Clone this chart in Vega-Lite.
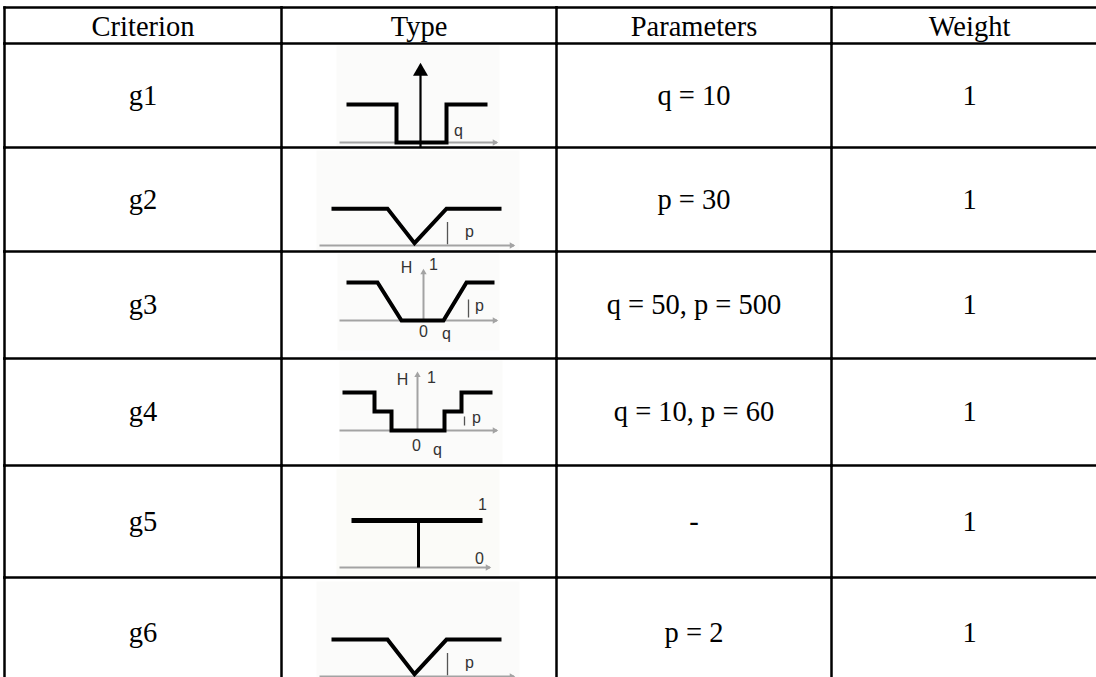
{
  "$schema": "https://vega.github.io/schema/vega-lite/v6.json",
  "padding": {"left": 2.5, "top": 5.5, "right": 0, "bottom": 0},
  "background": "white",
  "columns": 4,
  "align": "each",
  "bounds": "flush",
  "spacing": 0,
  "config": {
    "view": {"stroke": null},
    "concat": {"spacing": 0},
    "text": {"font": "Liberation Serif", "fontSize": 28.5, "color": "#000000"},
    "rule": {"color": "#000000", "strokeWidth": 2.5, "strokeCap": "square"}
  },
  "datasets": {
    "headers": [
      {"column": "Criterion"}, {"column": "Type"}, {"column": "Parameters"}, {"column": "Weight"}
    ],
    "table": [
      {"criterion": "g1", "icon": "u-shape", "parameters": "q = 10", "weight": 1},
      {"criterion": "g2", "icon": "v-shape", "parameters": "p = 30", "weight": 1},
      {"criterion": "g3", "icon": "linear", "parameters": "q = 50, p = 500", "weight": 1},
      {"criterion": "g4", "icon": "level", "parameters": "q = 10, p = 60", "weight": 1},
      {"criterion": "g5", "icon": "usual", "parameters": "-", "weight": 1},
      {"criterion": "g6", "icon": "v-shape", "parameters": "p = 2", "weight": 1}
    ],
    "panels": [
      {"icon": "u-shape", "d": -3.32, "d2": 3.2, "H": 2.55, "H2": -0.13},
      {"icon": "v-shape", "d": -4.12, "d2": 4.0, "H": 2.5, "H2": -0.15},
      {"icon": "linear", "d": -3.28, "d2": 3.2, "H": 1.76, "H2": -0.79},
      {"icon": "level", "d": -3.2, "d2": 3.32, "H": 1.84, "H2": -0.92},
      {"icon": "usual", "d": -3.32, "d2": 3.2, "H": 2.1, "H2": -0.17}
    ],
    "shapes": [
      {"icon": "u-shape", "part": "axis", "ord": 1, "d": -3.2, "H": 0},
      {"icon": "u-shape", "part": "axis", "ord": 2, "d": 3.1, "H": 0},
      {"icon": "u-shape", "part": "varrow", "ord": 1, "d": 0.04, "H": -0.13},
      {"icon": "u-shape", "part": "varrow", "ord": 2, "d": 0.04, "H": 1.85},
      {"icon": "u-shape", "part": "curve", "ord": 1, "d": -2.92, "H": 1},
      {"icon": "u-shape", "part": "curve", "ord": 2, "d": -0.92, "H": 1},
      {"icon": "u-shape", "part": "curve", "ord": 3, "d": -0.92, "H": 0},
      {"icon": "u-shape", "part": "curve", "ord": 4, "d": 1.08, "H": 0},
      {"icon": "u-shape", "part": "curve", "ord": 5, "d": 1.08, "H": 1},
      {"icon": "u-shape", "part": "curve", "ord": 6, "d": 2.72, "H": 1},
      {"icon": "v-shape", "part": "axis", "ord": 1, "d": -4.0, "H": 0},
      {"icon": "v-shape", "part": "axis", "ord": 2, "d": 3.78, "H": 0},
      {"icon": "v-shape", "part": "tick", "ord": 1, "d": 1.12, "H": 0.03},
      {"icon": "v-shape", "part": "tick", "ord": 2, "d": 1.12, "H": 0.62},
      {"icon": "v-shape", "part": "curve", "ord": 1, "d": -3.52, "H": 0.97},
      {"icon": "v-shape", "part": "curve", "ord": 2, "d": -1.28, "H": 0.97},
      {"icon": "v-shape", "part": "curve", "ord": 3, "d": -0.2, "H": 0.06},
      {"icon": "v-shape", "part": "curve", "ord": 4, "d": 1.08, "H": 0.97},
      {"icon": "v-shape", "part": "curve", "ord": 5, "d": 3.28, "H": 0.97},
      {"icon": "linear", "part": "axis", "ord": 1, "d": -3.2, "H": 0},
      {"icon": "linear", "part": "axis", "ord": 2, "d": 3.1, "H": 0},
      {"icon": "linear", "part": "vaxis", "ord": 1, "d": 0.16, "H": 0},
      {"icon": "linear", "part": "vaxis", "ord": 2, "d": 0.16, "H": 1.25},
      {"icon": "linear", "part": "tick", "ord": 1, "d": 1.96, "H": 0.08},
      {"icon": "linear", "part": "tick", "ord": 2, "d": 1.96, "H": 0.55},
      {"icon": "linear", "part": "curve", "ord": 1, "d": -2.92, "H": 1},
      {"icon": "linear", "part": "curve", "ord": 2, "d": -1.68, "H": 1},
      {"icon": "linear", "part": "curve", "ord": 3, "d": -0.72, "H": 0},
      {"icon": "linear", "part": "curve", "ord": 4, "d": 0.96, "H": 0},
      {"icon": "linear", "part": "curve", "ord": 5, "d": 1.88, "H": 1},
      {"icon": "linear", "part": "curve", "ord": 6, "d": 3.0, "H": 1},
      {"icon": "level", "part": "axis", "ord": 1, "d": -3.2, "H": 0},
      {"icon": "level", "part": "axis", "ord": 2, "d": 3.1, "H": 0},
      {"icon": "level", "part": "vaxis", "ord": 1, "d": -0.08, "H": 0},
      {"icon": "level", "part": "vaxis", "ord": 2, "d": -0.08, "H": 1.45},
      {"icon": "level", "part": "tick", "ord": 1, "d": 1.8, "H": 0.13},
      {"icon": "level", "part": "tick", "ord": 2, "d": 1.8, "H": 0.37},
      {"icon": "level", "part": "curve", "ord": 1, "d": -3.08, "H": 1},
      {"icon": "level", "part": "curve", "ord": 2, "d": -1.8, "H": 1},
      {"icon": "level", "part": "curve", "ord": 3, "d": -1.8, "H": 0.5},
      {"icon": "level", "part": "curve", "ord": 4, "d": -1.12, "H": 0.5},
      {"icon": "level", "part": "curve", "ord": 5, "d": -1.12, "H": 0},
      {"icon": "level", "part": "curve", "ord": 6, "d": 1.0, "H": 0},
      {"icon": "level", "part": "curve", "ord": 7, "d": 1.0, "H": 0.5},
      {"icon": "level", "part": "curve", "ord": 8, "d": 1.68, "H": 0.5},
      {"icon": "level", "part": "curve", "ord": 9, "d": 1.68, "H": 1},
      {"icon": "level", "part": "curve", "ord": 10, "d": 2.92, "H": 1},
      {"icon": "usual", "part": "axis", "ord": 1, "d": -3.2, "H": 0},
      {"icon": "usual", "part": "axis", "ord": 2, "d": 2.82, "H": 0},
      {"icon": "usual", "part": "stem", "ord": 1, "d": -0.04, "H": 0},
      {"icon": "usual", "part": "stem", "ord": 2, "d": -0.04, "H": 1},
      {"icon": "usual", "part": "bar", "ord": 1, "d": -2.72, "H": 1},
      {"icon": "usual", "part": "bar", "ord": 2, "d": 2.52, "H": 1}
    ],
    "arrows": [
      {"icon": "u-shape", "kind": "black", "dir": "up", "d": 0.04, "H": 1.93},
      {"icon": "u-shape", "kind": "grey", "dir": "right", "d": 3.04, "H": 0},
      {"icon": "v-shape", "kind": "grey", "dir": "right", "d": 3.72, "H": 0},
      {"icon": "linear", "kind": "grey", "dir": "up", "d": 0.16, "H": 1.29},
      {"icon": "linear", "kind": "grey", "dir": "right", "d": 3.04, "H": 0},
      {"icon": "level", "kind": "grey", "dir": "up", "d": -0.08, "H": 1.48},
      {"icon": "level", "kind": "grey", "dir": "right", "d": 3.04, "H": 0},
      {"icon": "usual", "kind": "grey", "dir": "right", "d": 2.76, "H": 0}
    ],
    "labels": [
      {"icon": "u-shape", "label": "q", "d": 1.56, "H": 0.29},
      {"icon": "v-shape", "label": "p", "d": 2.0, "H": 0.36},
      {"icon": "linear", "label": "H", "d": -0.52, "H": 1.39},
      {"icon": "linear", "label": "1", "d": 0.56, "H": 1.45},
      {"icon": "linear", "label": "0", "d": 0.16, "H": -0.29},
      {"icon": "linear", "label": "q", "d": 1.08, "H": -0.36},
      {"icon": "linear", "label": "p", "d": 2.4, "H": 0.39},
      {"icon": "level", "label": "H", "d": -0.68, "H": 1.32},
      {"icon": "level", "label": "1", "d": 0.48, "H": 1.37},
      {"icon": "level", "label": "0", "d": -0.12, "H": -0.42},
      {"icon": "level", "label": "q", "d": 0.72, "H": -0.5},
      {"icon": "level", "label": "p", "d": 2.28, "H": 0.32},
      {"icon": "usual", "label": "1", "d": 2.52, "H": 1.32},
      {"icon": "usual", "label": "0", "d": 2.4, "H": 0.19}
    ]
  },
  "concat": [
    {"width": 277, "height": 36, "data": {"name": "headers"}, "transform": [{"filter": "datum.column == 'Criterion'"}], "layer": [
      {"mark": {"type": "text", "dy": 1}, "encoding": {"text": {"field": "column", "type": "nominal"}}},
      {"mark": {"type": "rule"}, "encoding": {"x": {"value": 0}, "x2": {"value": "width"}, "y": {"value": 0}}},
      {"mark": {"type": "rule"}, "encoding": {"x": {"value": 0}, "y": {"value": 0}, "y2": {"value": "height"}}}
    ]},
    {"width": 275, "height": 36, "data": {"name": "headers"}, "transform": [{"filter": "datum.column == 'Type'"}], "layer": [
      {"mark": {"type": "text", "dy": 1}, "encoding": {"text": {"field": "column", "type": "nominal"}}},
      {"mark": {"type": "rule"}, "encoding": {"x": {"value": 0}, "x2": {"value": "width"}, "y": {"value": 0}}},
      {"mark": {"type": "rule"}, "encoding": {"x": {"value": 0}, "y": {"value": 0}, "y2": {"value": "height"}}}
    ]},
    {"width": 275, "height": 36, "data": {"name": "headers"}, "transform": [{"filter": "datum.column == 'Parameters'"}], "layer": [
      {"mark": {"type": "text", "dy": 1}, "encoding": {"text": {"field": "column", "type": "nominal"}}},
      {"mark": {"type": "rule"}, "encoding": {"x": {"value": 0}, "x2": {"value": "width"}, "y": {"value": 0}}},
      {"mark": {"type": "rule"}, "encoding": {"x": {"value": 0}, "y": {"value": 0}, "y2": {"value": "height"}}}
    ]},
    {"width": 276, "height": 36, "data": {"name": "headers"}, "transform": [{"filter": "datum.column == 'Weight'"}], "layer": [
      {"mark": {"type": "text", "dy": 1}, "encoding": {"text": {"field": "column", "type": "nominal"}}},
      {"mark": {"type": "rule"}, "encoding": {"x": {"value": 0}, "x2": {"value": "width"}, "y": {"value": 0}}},
      {"mark": {"type": "rule"}, "encoding": {"x": {"value": 0}, "y": {"value": 0}, "y2": {"value": "height"}}}
    ]},

    {"width": 277, "height": 104, "data": {"name": "table"}, "transform": [{"filter": "datum.criterion == 'g1'"}], "layer": [
      {"mark": {"type": "text"}, "encoding": {"text": {"field": "criterion", "type": "nominal"}}},
      {"mark": {"type": "rule"}, "encoding": {"x": {"value": 0}, "x2": {"value": "width"}, "y": {"value": 0}}},
      {"mark": {"type": "rule"}, "encoding": {"x": {"value": 0}, "y": {"value": 0}, "y2": {"value": "height"}}}
    ]},
    {"width": 275, "height": 104, "layer": [
      {"data": {"name": "panels"}, "transform": [{"filter": "datum.icon == 'u-shape'"}], "mark": {"type": "rect", "color": "#fbfbfa", "clip": true},
       "encoding": {"x": {"field": "d", "type": "quantitative", "scale": {"domain": [-5.52, 5.48], "nice": false, "zero": false}, "axis": null}, "x2": {"field": "d2"},
                    "y": {"field": "H", "type": "quantitative", "scale": {"domain": [-0.132, 2.605], "nice": false, "zero": false}, "axis": null}, "y2": {"field": "H2"}}},
      {"data": {"name": "shapes"}, "transform": [{"filter": "datum.icon == 'u-shape' && (datum.part == 'axis' || datum.part == 'vaxis')"}], "mark": {"type": "line", "color": "#a3a3a3", "strokeWidth": 2, "clip": true},
       "encoding": {"x": {"field": "d", "type": "quantitative", "axis": null}, "y": {"field": "H", "type": "quantitative", "axis": null}, "detail": {"field": "part"}, "order": {"field": "ord"}}},
      {"data": {"name": "shapes"}, "transform": [{"filter": "datum.icon == 'u-shape' && datum.part == 'varrow'"}], "mark": {"type": "line", "color": "#000000", "strokeWidth": 2.2, "clip": true},
       "encoding": {"x": {"field": "d", "type": "quantitative", "axis": null}, "y": {"field": "H", "type": "quantitative", "axis": null}, "order": {"field": "ord"}}},
      {"data": {"name": "shapes"}, "transform": [{"filter": "datum.icon == 'u-shape' && datum.part == 'curve'"}], "mark": {"type": "line", "color": "#000000", "strokeWidth": 4, "clip": true},
       "encoding": {"x": {"field": "d", "type": "quantitative", "axis": null}, "y": {"field": "H", "type": "quantitative", "axis": null}, "order": {"field": "ord"}}},
      {"data": {"name": "arrows"}, "transform": [{"filter": "datum.icon == 'u-shape' && datum.kind == 'grey'"}], "mark": {"type": "point", "filled": true, "color": "#a3a3a3", "opacity": 1, "size": 40, "clip": true},
       "encoding": {"x": {"field": "d", "type": "quantitative", "axis": null}, "y": {"field": "H", "type": "quantitative", "axis": null}, "shape": {"field": "dir", "type": "nominal", "scale": {"domain": ["up", "right"], "range": ["triangle-up", "triangle-right"]}, "legend": null}}},
      {"data": {"name": "arrows"}, "transform": [{"filter": "datum.icon == 'u-shape' && datum.kind == 'black'"}], "mark": {"type": "point", "filled": true, "color": "#000000", "opacity": 1, "size": 225, "clip": true},
       "encoding": {"x": {"field": "d", "type": "quantitative", "axis": null}, "y": {"field": "H", "type": "quantitative", "axis": null}, "shape": {"field": "dir", "type": "nominal", "scale": {"domain": ["up", "right"], "range": ["triangle-up", "triangle-right"]}, "legend": null}}},
      {"data": {"name": "labels"}, "transform": [{"filter": "datum.icon == 'u-shape'"}], "mark": {"type": "text", "font": "Liberation Sans", "fontSize": 16, "color": "#333333", "clip": true},
       "encoding": {"x": {"field": "d", "type": "quantitative", "axis": null}, "y": {"field": "H", "type": "quantitative", "axis": null}, "text": {"field": "label", "type": "nominal"}}},
      {"data": {"name": "table"}, "transform": [{"filter": "datum.criterion == 'g1'"}], "mark": {"type": "rule"}, "encoding": {"x": {"value": 0}, "x2": {"value": "width"}, "y": {"value": 0}}},
      {"data": {"name": "table"}, "transform": [{"filter": "datum.criterion == 'g1'"}], "mark": {"type": "rule"}, "encoding": {"x": {"value": 0}, "y": {"value": 0}, "y2": {"value": "height"}}}
    ]},
    {"width": 275, "height": 104, "data": {"name": "table"}, "transform": [{"filter": "datum.criterion == 'g1'"}], "layer": [
      {"mark": {"type": "text"}, "encoding": {"text": {"field": "parameters", "type": "nominal"}}},
      {"mark": {"type": "rule"}, "encoding": {"x": {"value": 0}, "x2": {"value": "width"}, "y": {"value": 0}}},
      {"mark": {"type": "rule"}, "encoding": {"x": {"value": 0}, "y": {"value": 0}, "y2": {"value": "height"}}}
    ]},
    {"width": 276, "height": 104, "data": {"name": "table"}, "transform": [{"filter": "datum.criterion == 'g1'"}], "layer": [
      {"mark": {"type": "text"}, "encoding": {"text": {"field": "weight", "type": "nominal"}}},
      {"mark": {"type": "rule"}, "encoding": {"x": {"value": 0}, "x2": {"value": "width"}, "y": {"value": 0}}},
      {"mark": {"type": "rule"}, "encoding": {"x": {"value": 0}, "y": {"value": 0}, "y2": {"value": "height"}}}
    ]},

    {"width": 277, "height": 104, "data": {"name": "table"}, "transform": [{"filter": "datum.criterion == 'g2'"}], "layer": [
      {"mark": {"type": "text"}, "encoding": {"text": {"field": "criterion", "type": "nominal"}}},
      {"mark": {"type": "rule"}, "encoding": {"x": {"value": 0}, "x2": {"value": "width"}, "y": {"value": 0}}},
      {"mark": {"type": "rule"}, "encoding": {"x": {"value": 0}, "y": {"value": 0}, "y2": {"value": "height"}}}
    ]},
    {"width": 275, "height": 104, "layer": [
      {"data": {"name": "panels"}, "transform": [{"filter": "datum.icon == 'v-shape'"}], "mark": {"type": "rect", "color": "#fbfbfa", "clip": true},
       "encoding": {"x": {"field": "d", "type": "quantitative", "scale": {"domain": [-5.52, 5.48], "nice": false, "zero": false}, "axis": null}, "x2": {"field": "d2"},
                    "y": {"field": "H", "type": "quantitative", "scale": {"domain": [-0.158, 2.579], "nice": false, "zero": false}, "axis": null}, "y2": {"field": "H2"}}},
      {"data": {"name": "shapes"}, "transform": [{"filter": "datum.icon == 'v-shape' && (datum.part == 'axis' || datum.part == 'vaxis')"}], "mark": {"type": "line", "color": "#a3a3a3", "strokeWidth": 2, "clip": true},
       "encoding": {"x": {"field": "d", "type": "quantitative", "axis": null}, "y": {"field": "H", "type": "quantitative", "axis": null}, "detail": {"field": "part"}, "order": {"field": "ord"}}},
      {"data": {"name": "shapes"}, "transform": [{"filter": "datum.icon == 'v-shape' && datum.part == 'tick'"}], "mark": {"type": "line", "color": "#555555", "strokeWidth": 1.3, "clip": true},
       "encoding": {"x": {"field": "d", "type": "quantitative", "axis": null}, "y": {"field": "H", "type": "quantitative", "axis": null}, "order": {"field": "ord"}}},
      {"data": {"name": "shapes"}, "transform": [{"filter": "datum.icon == 'v-shape' && datum.part == 'curve'"}], "mark": {"type": "line", "color": "#000000", "strokeWidth": 4, "clip": true},
       "encoding": {"x": {"field": "d", "type": "quantitative", "axis": null}, "y": {"field": "H", "type": "quantitative", "axis": null}, "order": {"field": "ord"}}},
      {"data": {"name": "arrows"}, "transform": [{"filter": "datum.icon == 'v-shape' && datum.kind == 'grey'"}], "mark": {"type": "point", "filled": true, "color": "#a3a3a3", "opacity": 1, "size": 40, "clip": true},
       "encoding": {"x": {"field": "d", "type": "quantitative", "axis": null}, "y": {"field": "H", "type": "quantitative", "axis": null}, "shape": {"field": "dir", "type": "nominal", "scale": {"domain": ["up", "right"], "range": ["triangle-up", "triangle-right"]}, "legend": null}}},
      {"data": {"name": "labels"}, "transform": [{"filter": "datum.icon == 'v-shape'"}], "mark": {"type": "text", "font": "Liberation Sans", "fontSize": 16, "color": "#333333", "clip": true},
       "encoding": {"x": {"field": "d", "type": "quantitative", "axis": null}, "y": {"field": "H", "type": "quantitative", "axis": null}, "text": {"field": "label", "type": "nominal"}}},
      {"data": {"name": "table"}, "transform": [{"filter": "datum.criterion == 'g2'"}], "mark": {"type": "rule"}, "encoding": {"x": {"value": 0}, "x2": {"value": "width"}, "y": {"value": 0}}},
      {"data": {"name": "table"}, "transform": [{"filter": "datum.criterion == 'g2'"}], "mark": {"type": "rule"}, "encoding": {"x": {"value": 0}, "y": {"value": 0}, "y2": {"value": "height"}}}
    ]},
    {"width": 275, "height": 104, "data": {"name": "table"}, "transform": [{"filter": "datum.criterion == 'g2'"}], "layer": [
      {"mark": {"type": "text"}, "encoding": {"text": {"field": "parameters", "type": "nominal"}}},
      {"mark": {"type": "rule"}, "encoding": {"x": {"value": 0}, "x2": {"value": "width"}, "y": {"value": 0}}},
      {"mark": {"type": "rule"}, "encoding": {"x": {"value": 0}, "y": {"value": 0}, "y2": {"value": "height"}}}
    ]},
    {"width": 276, "height": 104, "data": {"name": "table"}, "transform": [{"filter": "datum.criterion == 'g2'"}], "layer": [
      {"mark": {"type": "text"}, "encoding": {"text": {"field": "weight", "type": "nominal"}}},
      {"mark": {"type": "rule"}, "encoding": {"x": {"value": 0}, "x2": {"value": "width"}, "y": {"value": 0}}},
      {"mark": {"type": "rule"}, "encoding": {"x": {"value": 0}, "y": {"value": 0}, "y2": {"value": "height"}}}
    ]},

    {"width": 277, "height": 107, "data": {"name": "table"}, "transform": [{"filter": "datum.criterion == 'g3'"}], "layer": [
      {"mark": {"type": "text"}, "encoding": {"text": {"field": "criterion", "type": "nominal"}}},
      {"mark": {"type": "rule"}, "encoding": {"x": {"value": 0}, "x2": {"value": "width"}, "y": {"value": 0}}},
      {"mark": {"type": "rule"}, "encoding": {"x": {"value": 0}, "y": {"value": 0}, "y2": {"value": "height"}}}
    ]},
    {"width": 275, "height": 107, "layer": [
      {"data": {"name": "panels"}, "transform": [{"filter": "datum.icon == 'linear'"}], "mark": {"type": "rect", "color": "#fbfbfa", "clip": true},
       "encoding": {"x": {"field": "d", "type": "quantitative", "scale": {"domain": [-5.52, 5.48], "nice": false, "zero": false}, "axis": null}, "x2": {"field": "d2"},
                    "y": {"field": "H", "type": "quantitative", "scale": {"domain": [-1.0, 1.816], "nice": false, "zero": false}, "axis": null}, "y2": {"field": "H2"}}},
      {"data": {"name": "shapes"}, "transform": [{"filter": "datum.icon == 'linear' && (datum.part == 'axis' || datum.part == 'vaxis')"}], "mark": {"type": "line", "color": "#a3a3a3", "strokeWidth": 2, "clip": true},
       "encoding": {"x": {"field": "d", "type": "quantitative", "axis": null}, "y": {"field": "H", "type": "quantitative", "axis": null}, "detail": {"field": "part"}, "order": {"field": "ord"}}},
      {"data": {"name": "shapes"}, "transform": [{"filter": "datum.icon == 'linear' && datum.part == 'tick'"}], "mark": {"type": "line", "color": "#555555", "strokeWidth": 1.3, "clip": true},
       "encoding": {"x": {"field": "d", "type": "quantitative", "axis": null}, "y": {"field": "H", "type": "quantitative", "axis": null}, "order": {"field": "ord"}}},
      {"data": {"name": "shapes"}, "transform": [{"filter": "datum.icon == 'linear' && datum.part == 'curve'"}], "mark": {"type": "line", "color": "#000000", "strokeWidth": 4, "clip": true},
       "encoding": {"x": {"field": "d", "type": "quantitative", "axis": null}, "y": {"field": "H", "type": "quantitative", "axis": null}, "order": {"field": "ord"}}},
      {"data": {"name": "arrows"}, "transform": [{"filter": "datum.icon == 'linear' && datum.kind == 'grey'"}], "mark": {"type": "point", "filled": true, "color": "#a3a3a3", "opacity": 1, "size": 40, "clip": true},
       "encoding": {"x": {"field": "d", "type": "quantitative", "axis": null}, "y": {"field": "H", "type": "quantitative", "axis": null}, "shape": {"field": "dir", "type": "nominal", "scale": {"domain": ["up", "right"], "range": ["triangle-up", "triangle-right"]}, "legend": null}}},
      {"data": {"name": "labels"}, "transform": [{"filter": "datum.icon == 'linear'"}], "mark": {"type": "text", "font": "Liberation Sans", "fontSize": 16, "color": "#333333", "clip": true},
       "encoding": {"x": {"field": "d", "type": "quantitative", "axis": null}, "y": {"field": "H", "type": "quantitative", "axis": null}, "text": {"field": "label", "type": "nominal"}}},
      {"data": {"name": "table"}, "transform": [{"filter": "datum.criterion == 'g3'"}], "mark": {"type": "rule"}, "encoding": {"x": {"value": 0}, "x2": {"value": "width"}, "y": {"value": 0}}},
      {"data": {"name": "table"}, "transform": [{"filter": "datum.criterion == 'g3'"}], "mark": {"type": "rule"}, "encoding": {"x": {"value": 0}, "y": {"value": 0}, "y2": {"value": "height"}}}
    ]},
    {"width": 275, "height": 107, "data": {"name": "table"}, "transform": [{"filter": "datum.criterion == 'g3'"}], "layer": [
      {"mark": {"type": "text"}, "encoding": {"text": {"field": "parameters", "type": "nominal"}}},
      {"mark": {"type": "rule"}, "encoding": {"x": {"value": 0}, "x2": {"value": "width"}, "y": {"value": 0}}},
      {"mark": {"type": "rule"}, "encoding": {"x": {"value": 0}, "y": {"value": 0}, "y2": {"value": "height"}}}
    ]},
    {"width": 276, "height": 107, "data": {"name": "table"}, "transform": [{"filter": "datum.criterion == 'g3'"}], "layer": [
      {"mark": {"type": "text"}, "encoding": {"text": {"field": "weight", "type": "nominal"}}},
      {"mark": {"type": "rule"}, "encoding": {"x": {"value": 0}, "x2": {"value": "width"}, "y": {"value": 0}}},
      {"mark": {"type": "rule"}, "encoding": {"x": {"value": 0}, "y": {"value": 0}, "y2": {"value": "height"}}}
    ]},

    {"width": 277, "height": 107, "data": {"name": "table"}, "transform": [{"filter": "datum.criterion == 'g4'"}], "layer": [
      {"mark": {"type": "text"}, "encoding": {"text": {"field": "criterion", "type": "nominal"}}},
      {"mark": {"type": "rule"}, "encoding": {"x": {"value": 0}, "x2": {"value": "width"}, "y": {"value": 0}}},
      {"mark": {"type": "rule"}, "encoding": {"x": {"value": 0}, "y": {"value": 0}, "y2": {"value": "height"}}}
    ]},
    {"width": 275, "height": 107, "layer": [
      {"data": {"name": "panels"}, "transform": [{"filter": "datum.icon == 'level'"}], "mark": {"type": "rect", "color": "#fbfbfa", "clip": true},
       "encoding": {"x": {"field": "d", "type": "quantitative", "scale": {"domain": [-5.52, 5.48], "nice": false, "zero": false}, "axis": null}, "x2": {"field": "d2"},
                    "y": {"field": "H", "type": "quantitative", "scale": {"domain": [-0.921, 1.895], "nice": false, "zero": false}, "axis": null}, "y2": {"field": "H2"}}},
      {"data": {"name": "shapes"}, "transform": [{"filter": "datum.icon == 'level' && (datum.part == 'axis' || datum.part == 'vaxis')"}], "mark": {"type": "line", "color": "#a3a3a3", "strokeWidth": 2, "clip": true},
       "encoding": {"x": {"field": "d", "type": "quantitative", "axis": null}, "y": {"field": "H", "type": "quantitative", "axis": null}, "detail": {"field": "part"}, "order": {"field": "ord"}}},
      {"data": {"name": "shapes"}, "transform": [{"filter": "datum.icon == 'level' && datum.part == 'tick'"}], "mark": {"type": "line", "color": "#555555", "strokeWidth": 1.3, "clip": true},
       "encoding": {"x": {"field": "d", "type": "quantitative", "axis": null}, "y": {"field": "H", "type": "quantitative", "axis": null}, "order": {"field": "ord"}}},
      {"data": {"name": "shapes"}, "transform": [{"filter": "datum.icon == 'level' && datum.part == 'curve'"}], "mark": {"type": "line", "color": "#000000", "strokeWidth": 4, "clip": true},
       "encoding": {"x": {"field": "d", "type": "quantitative", "axis": null}, "y": {"field": "H", "type": "quantitative", "axis": null}, "order": {"field": "ord"}}},
      {"data": {"name": "arrows"}, "transform": [{"filter": "datum.icon == 'level' && datum.kind == 'grey'"}], "mark": {"type": "point", "filled": true, "color": "#a3a3a3", "opacity": 1, "size": 40, "clip": true},
       "encoding": {"x": {"field": "d", "type": "quantitative", "axis": null}, "y": {"field": "H", "type": "quantitative", "axis": null}, "shape": {"field": "dir", "type": "nominal", "scale": {"domain": ["up", "right"], "range": ["triangle-up", "triangle-right"]}, "legend": null}}},
      {"data": {"name": "labels"}, "transform": [{"filter": "datum.icon == 'level'"}], "mark": {"type": "text", "font": "Liberation Sans", "fontSize": 16, "color": "#333333", "clip": true},
       "encoding": {"x": {"field": "d", "type": "quantitative", "axis": null}, "y": {"field": "H", "type": "quantitative", "axis": null}, "text": {"field": "label", "type": "nominal"}}},
      {"data": {"name": "table"}, "transform": [{"filter": "datum.criterion == 'g4'"}], "mark": {"type": "rule"}, "encoding": {"x": {"value": 0}, "x2": {"value": "width"}, "y": {"value": 0}}},
      {"data": {"name": "table"}, "transform": [{"filter": "datum.criterion == 'g4'"}], "mark": {"type": "rule"}, "encoding": {"x": {"value": 0}, "y": {"value": 0}, "y2": {"value": "height"}}}
    ]},
    {"width": 275, "height": 107, "data": {"name": "table"}, "transform": [{"filter": "datum.criterion == 'g4'"}], "layer": [
      {"mark": {"type": "text"}, "encoding": {"text": {"field": "parameters", "type": "nominal"}}},
      {"mark": {"type": "rule"}, "encoding": {"x": {"value": 0}, "x2": {"value": "width"}, "y": {"value": 0}}},
      {"mark": {"type": "rule"}, "encoding": {"x": {"value": 0}, "y": {"value": 0}, "y2": {"value": "height"}}}
    ]},
    {"width": 276, "height": 107, "data": {"name": "table"}, "transform": [{"filter": "datum.criterion == 'g4'"}], "layer": [
      {"mark": {"type": "text"}, "encoding": {"text": {"field": "weight", "type": "nominal"}}},
      {"mark": {"type": "rule"}, "encoding": {"x": {"value": 0}, "x2": {"value": "width"}, "y": {"value": 0}}},
      {"mark": {"type": "rule"}, "encoding": {"x": {"value": 0}, "y": {"value": 0}, "y2": {"value": "height"}}}
    ]},

    {"width": 277, "height": 112, "data": {"name": "table"}, "transform": [{"filter": "datum.criterion == 'g5'"}], "layer": [
      {"mark": {"type": "text"}, "encoding": {"text": {"field": "criterion", "type": "nominal"}}},
      {"mark": {"type": "rule"}, "encoding": {"x": {"value": 0}, "x2": {"value": "width"}, "y": {"value": 0}}},
      {"mark": {"type": "rule"}, "encoding": {"x": {"value": 0}, "y": {"value": 0}, "y2": {"value": "height"}}}
    ]},
    {"width": 275, "height": 112, "layer": [
      {"data": {"name": "panels"}, "transform": [{"filter": "datum.icon == 'usual'"}], "mark": {"type": "rect", "color": "#fbfbf8", "clip": true},
       "encoding": {"x": {"field": "d", "type": "quantitative", "scale": {"domain": [-5.52, 5.48], "nice": false, "zero": false}, "axis": null}, "x2": {"field": "d2"},
                    "y": {"field": "H", "type": "quantitative", "scale": {"domain": [-0.213, 2.17], "nice": false, "zero": false}, "axis": null}, "y2": {"field": "H2"}}},
      {"data": {"name": "shapes"}, "transform": [{"filter": "datum.icon == 'usual' && (datum.part == 'axis' || datum.part == 'vaxis')"}], "mark": {"type": "line", "color": "#a3a3a3", "strokeWidth": 2, "clip": true},
       "encoding": {"x": {"field": "d", "type": "quantitative", "axis": null}, "y": {"field": "H", "type": "quantitative", "axis": null}, "detail": {"field": "part"}, "order": {"field": "ord"}}},
      {"data": {"name": "shapes"}, "transform": [{"filter": "datum.icon == 'usual' && datum.part == 'stem'"}], "mark": {"type": "line", "color": "#000000", "strokeWidth": 3, "clip": true},
       "encoding": {"x": {"field": "d", "type": "quantitative", "axis": null}, "y": {"field": "H", "type": "quantitative", "axis": null}, "order": {"field": "ord"}}},
      {"data": {"name": "shapes"}, "transform": [{"filter": "datum.icon == 'usual' && datum.part == 'bar'"}], "mark": {"type": "line", "color": "#000000", "strokeWidth": 5, "clip": true},
       "encoding": {"x": {"field": "d", "type": "quantitative", "axis": null}, "y": {"field": "H", "type": "quantitative", "axis": null}, "order": {"field": "ord"}}},
      {"data": {"name": "arrows"}, "transform": [{"filter": "datum.icon == 'usual' && datum.kind == 'grey'"}], "mark": {"type": "point", "filled": true, "color": "#a3a3a3", "opacity": 1, "size": 40, "clip": true},
       "encoding": {"x": {"field": "d", "type": "quantitative", "axis": null}, "y": {"field": "H", "type": "quantitative", "axis": null}, "shape": {"field": "dir", "type": "nominal", "scale": {"domain": ["up", "right"], "range": ["triangle-up", "triangle-right"]}, "legend": null}}},
      {"data": {"name": "labels"}, "transform": [{"filter": "datum.icon == 'usual'"}], "mark": {"type": "text", "font": "Liberation Sans", "fontSize": 16, "color": "#333333", "clip": true},
       "encoding": {"x": {"field": "d", "type": "quantitative", "axis": null}, "y": {"field": "H", "type": "quantitative", "axis": null}, "text": {"field": "label", "type": "nominal"}}},
      {"data": {"name": "table"}, "transform": [{"filter": "datum.criterion == 'g5'"}], "mark": {"type": "rule"}, "encoding": {"x": {"value": 0}, "x2": {"value": "width"}, "y": {"value": 0}}},
      {"data": {"name": "table"}, "transform": [{"filter": "datum.criterion == 'g5'"}], "mark": {"type": "rule"}, "encoding": {"x": {"value": 0}, "y": {"value": 0}, "y2": {"value": "height"}}}
    ]},
    {"width": 275, "height": 112, "data": {"name": "table"}, "transform": [{"filter": "datum.criterion == 'g5'"}], "layer": [
      {"mark": {"type": "text"}, "encoding": {"text": {"field": "parameters", "type": "nominal"}}},
      {"mark": {"type": "rule"}, "encoding": {"x": {"value": 0}, "x2": {"value": "width"}, "y": {"value": 0}}},
      {"mark": {"type": "rule"}, "encoding": {"x": {"value": 0}, "y": {"value": 0}, "y2": {"value": "height"}}}
    ]},
    {"width": 276, "height": 112, "data": {"name": "table"}, "transform": [{"filter": "datum.criterion == 'g5'"}], "layer": [
      {"mark": {"type": "text"}, "encoding": {"text": {"field": "weight", "type": "nominal"}}},
      {"mark": {"type": "rule"}, "encoding": {"x": {"value": 0}, "x2": {"value": "width"}, "y": {"value": 0}}},
      {"mark": {"type": "rule"}, "encoding": {"x": {"value": 0}, "y": {"value": 0}, "y2": {"value": "height"}}}
    ]},

    {"width": 277, "height": 110, "data": {"name": "table"}, "transform": [{"filter": "datum.criterion == 'g6'"}], "layer": [
      {"mark": {"type": "text"}, "encoding": {"text": {"field": "criterion", "type": "nominal"}}},
      {"mark": {"type": "rule"}, "encoding": {"x": {"value": 0}, "x2": {"value": "width"}, "y": {"value": 0}}},
      {"mark": {"type": "rule"}, "encoding": {"x": {"value": 0}, "y": {"value": 0}, "y2": {"value": "height"}}}
    ]},
    {"width": 275, "height": 110, "layer": [
      {"data": {"name": "panels"}, "transform": [{"filter": "datum.icon == 'v-shape'"}], "mark": {"type": "rect", "color": "#fbfbfa", "clip": true},
       "encoding": {"x": {"field": "d", "type": "quantitative", "scale": {"domain": [-5.52, 5.48], "nice": false, "zero": false}, "axis": null}, "x2": {"field": "d2"},
                    "y": {"field": "H", "type": "quantitative", "scale": {"domain": [-0.29, 2.605], "nice": false, "zero": false}, "axis": null}, "y2": {"field": "H2"}}},
      {"data": {"name": "shapes"}, "transform": [{"filter": "datum.icon == 'v-shape' && (datum.part == 'axis' || datum.part == 'vaxis')"}], "mark": {"type": "line", "color": "#a3a3a3", "strokeWidth": 2, "clip": true},
       "encoding": {"x": {"field": "d", "type": "quantitative", "axis": null}, "y": {"field": "H", "type": "quantitative", "axis": null}, "detail": {"field": "part"}, "order": {"field": "ord"}}},
      {"data": {"name": "shapes"}, "transform": [{"filter": "datum.icon == 'v-shape' && datum.part == 'tick'"}], "mark": {"type": "line", "color": "#555555", "strokeWidth": 1.3, "clip": true},
       "encoding": {"x": {"field": "d", "type": "quantitative", "axis": null}, "y": {"field": "H", "type": "quantitative", "axis": null}, "order": {"field": "ord"}}},
      {"data": {"name": "shapes"}, "transform": [{"filter": "datum.icon == 'v-shape' && datum.part == 'curve'"}], "mark": {"type": "line", "color": "#000000", "strokeWidth": 4, "clip": true},
       "encoding": {"x": {"field": "d", "type": "quantitative", "axis": null}, "y": {"field": "H", "type": "quantitative", "axis": null}, "order": {"field": "ord"}}},
      {"data": {"name": "arrows"}, "transform": [{"filter": "datum.icon == 'v-shape' && datum.kind == 'grey'"}], "mark": {"type": "point", "filled": true, "color": "#a3a3a3", "opacity": 1, "size": 40, "clip": true},
       "encoding": {"x": {"field": "d", "type": "quantitative", "axis": null}, "y": {"field": "H", "type": "quantitative", "axis": null}, "shape": {"field": "dir", "type": "nominal", "scale": {"domain": ["up", "right"], "range": ["triangle-up", "triangle-right"]}, "legend": null}}},
      {"data": {"name": "labels"}, "transform": [{"filter": "datum.icon == 'v-shape'"}], "mark": {"type": "text", "font": "Liberation Sans", "fontSize": 16, "color": "#333333", "clip": true},
       "encoding": {"x": {"field": "d", "type": "quantitative", "axis": null}, "y": {"field": "H", "type": "quantitative", "axis": null}, "text": {"field": "label", "type": "nominal"}}},
      {"data": {"name": "table"}, "transform": [{"filter": "datum.criterion == 'g6'"}], "mark": {"type": "rule"}, "encoding": {"x": {"value": 0}, "x2": {"value": "width"}, "y": {"value": 0}}},
      {"data": {"name": "table"}, "transform": [{"filter": "datum.criterion == 'g6'"}], "mark": {"type": "rule"}, "encoding": {"x": {"value": 0}, "y": {"value": 0}, "y2": {"value": "height"}}}
    ]},
    {"width": 275, "height": 110, "data": {"name": "table"}, "transform": [{"filter": "datum.criterion == 'g6'"}], "layer": [
      {"mark": {"type": "text"}, "encoding": {"text": {"field": "parameters", "type": "nominal"}}},
      {"mark": {"type": "rule"}, "encoding": {"x": {"value": 0}, "x2": {"value": "width"}, "y": {"value": 0}}},
      {"mark": {"type": "rule"}, "encoding": {"x": {"value": 0}, "y": {"value": 0}, "y2": {"value": "height"}}}
    ]},
    {"width": 276, "height": 110, "data": {"name": "table"}, "transform": [{"filter": "datum.criterion == 'g6'"}], "layer": [
      {"mark": {"type": "text"}, "encoding": {"text": {"field": "weight", "type": "nominal"}}},
      {"mark": {"type": "rule"}, "encoding": {"x": {"value": 0}, "x2": {"value": "width"}, "y": {"value": 0}}},
      {"mark": {"type": "rule"}, "encoding": {"x": {"value": 0}, "y": {"value": 0}, "y2": {"value": "height"}}}
    ]}
  ]
}
